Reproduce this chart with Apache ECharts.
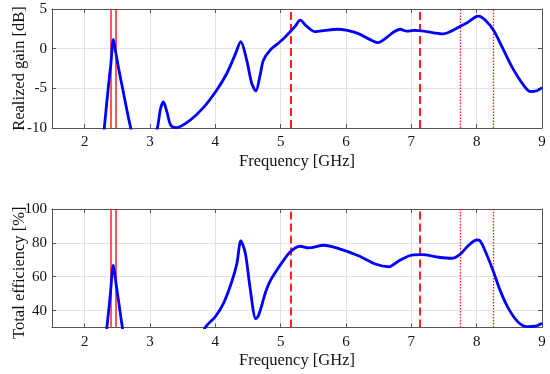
<!DOCTYPE html>
<html>
<head>
<meta charset="utf-8">
<script src="https://cdn.jsdelivr.net/npm/echarts@6/dist/echarts.min.js"></script>
<style>html,body{margin:0;padding:0;background:#fff;}#c{width:550px;height:374px;}</style>
</head>
<body>
<div id="c"></div>
<script>
// Realized gain (dB) vs frequency (GHz); values outside the axis range are clipped
var gainFreq = [2.20, 2.30, 2.36, 2.40, 2.44, 2.47, 2.52, 2.58, 2.65, 2.705, 2.80, 3.00, 3.113, 3.16, 3.205, 3.26, 3.318, 3.40, 3.61, 3.817, 4.02, 4.175, 4.30, 4.39, 4.48, 4.558, 4.62, 4.685, 4.736, 4.84, 4.99, 5.07, 5.145, 5.22, 5.30, 5.40, 5.53, 5.68, 5.86, 6.02, 6.19, 6.37, 6.49, 6.60, 6.73, 6.83, 6.93, 7.04, 7.16, 7.34, 7.49, 7.62, 7.75, 7.85, 7.98, 8.03, 8.13, 8.26, 8.39, 8.54, 8.70, 8.82, 8.92, 9.00];
var gainVals = [-18, -10, -5.0, -2.0, 1.17, -0.2, -2.5, -5.0, -7.9, -10, -13, -13, -10, -7.6, -6.72, -8.0, -9.66, -9.96, -9.03, -7.43, -5.24, -3.13, -0.82, 0.87, -1.45, -4.39, -5.33, -3.34, -1.45, -0.18, 0.87, 1.48, 2.13, 2.8, 3.6, 2.8, 2.13, 2.3, 2.45, 2.3, 1.9, 1.14, 0.76, 1.27, 2.1, 2.45, 2.2, 2.3, 2.24, 2.0, 1.86, 2.24, 2.83, 3.25, 4.0, 4.1, 3.6, 2.3, 0.2, -2.3, -4.4, -5.4, -5.3, -4.9];

// Total efficiency (%) vs frequency (GHz)
var effFreq = [2.25, 2.34, 2.39, 2.44, 2.48, 2.53, 2.577, 2.65, 3.00, 3.60, 3.843, 3.996, 4.123, 4.25, 4.33, 4.39, 4.46, 4.53, 4.62, 4.66, 4.71, 4.77, 4.84, 4.92, 4.99, 5.145, 5.30, 5.43, 5.66, 5.89, 6.19, 6.45, 6.65, 6.83, 7.01, 7.16, 7.42, 7.62, 7.75, 7.87, 8.00, 8.05, 8.15, 8.26, 8.36, 8.49, 8.64, 8.79, 8.92, 9.00];
var effVals = [0, 30, 48.4, 66.8, 56, 42.6, 30, 12, 5, 10, 29.9, 36.2, 44.1, 56.9, 67.8, 81.1, 73.7, 53.9, 35.2, 37, 43, 51, 57.5, 62.6, 66.7, 74.6, 78, 77, 78.6, 76.6, 72.4, 67.5, 65.9, 69.9, 72.8, 73, 71.5, 70.9, 73.4, 78.3, 81.7, 81.3, 73.4, 62.6, 51.8, 41, 33, 30.5, 31, 32.5];

// Band markers (GHz)
var solidMarks = [2.4, 2.48];
var dashedMarks = [5.15, 7.125];
var dottedMarks = [7.75, 8.25];

var xTickMin = 1.5, xTickMax = 9;

function pairs(xs, ys) { return xs.map(function (x, i) { return [x, ys[i]]; }); }

function marks() {
  var d = [];
  solidMarks.forEach(function (v) { d.push({ xAxis: v, lineStyle: { type: 'solid', width: 1.5, color: '#ff2020' } }); });
  dashedMarks.forEach(function (v) { d.push({ xAxis: v, lineStyle: { type: [8, 4], width: 2, color: '#ff2020' } }); });
  dottedMarks.forEach(function (v) { d.push({ xAxis: v, lineStyle: { type: [1.5, 1.5], width: 1.3, color: '#ff2020' } }); });
  return { silent: true, symbol: ['none', 'none'], label: { show: false }, animation: false, data: d };
}

var FONT = 'Liberation Serif';
var axisGray = '#555555';
var gridGray = '#e3e3e3';

function mainX(gi) {
  return {
    type: 'value', gridIndex: gi, min: xTickMin, max: xTickMax, splitNumber: 8,
    name: 'Frequency [GHz]', nameLocation: 'middle', nameGap: 25, nameMoveOverlap: false,
    nameTextStyle: { fontFamily: FONT, fontSize: 16.5, color: '#111' },
    axisLine: { show: true, onZero: false, lineStyle: { color: axisGray, width: 1 } },
    axisTick: { show: true, inside: true, length: 4, lineStyle: { color: axisGray } },
    axisLabel: { fontFamily: FONT, fontSize: 15, color: '#111', margin: 7, showMinLabel: false },
    splitLine: { show: true, lineStyle: { color: gridGray, width: 1 } }
  };
}
function topX(gi) {
  return {
    type: 'value', gridIndex: gi, position: 'top', min: xTickMin, max: xTickMax, splitNumber: 8,
    axisLine: { show: true, onZero: false, lineStyle: { color: axisGray, width: 1 } },
    axisTick: { show: true, inside: true, length: 4, lineStyle: { color: axisGray } },
    axisLabel: { show: false }, splitLine: { show: false }
  };
}
function mainY(gi, name, min, max, opts, namePad) {
  var o = {
    type: 'value', gridIndex: gi, min: min, max: max,
    name: name, nameLocation: 'middle', nameGap: 24, nameMoveOverlap: false,
    nameTextStyle: { fontFamily: FONT, fontSize: 16.5, color: '#111', padding: namePad },
    axisLine: { show: true, onZero: false, lineStyle: { color: axisGray, width: 1 } },
    axisTick: { show: true, inside: true, length: 4, lineStyle: { color: axisGray } },
    axisLabel: { fontFamily: FONT, fontSize: 15, color: '#111', margin: 5 },
    splitLine: { show: true, lineStyle: { color: gridGray, width: 1 } }
  };
  for (var k in opts) { if (k === 'axisLabel') { for (var j in opts[k]) o.axisLabel[j] = opts[k][j]; } else o[k] = opts[k]; }
  return o;
}
function rightY(gi, min, max, opts) {
  var o = {
    type: 'value', gridIndex: gi, position: 'right', min: min, max: max,
    axisLine: { show: true, onZero: false, lineStyle: { color: axisGray, width: 1 } },
    axisTick: { show: true, inside: true, length: 4, lineStyle: { color: axisGray } },
    axisLabel: { show: false }, splitLine: { show: false }
  };
  for (var k in opts) o[k] = opts[k];
  return o;
}

var chart = echarts.init(document.getElementById('c'), null, { renderer: 'canvas' });
chart.setOption({
  animation: false,
  backgroundColor: '#ffffff',
  grid: [
    { left: 52, right: 8, top: 9, height: 119, containLabel: false, outerBoundsMode: 'none' },
    { left: 52, right: 8, top: 209, height: 118.5, containLabel: false, outerBoundsMode: 'none' }
  ],
  xAxis: [mainX(0), topX(0), mainX(1), topX(1)],
  yAxis: [
    mainY(0, 'Realized gain [dB]', -10, 5, { interval: 5 }, [0, 0, 0, 0]),
    rightY(0, -10, 5, { interval: 5 }),
    mainY(1, 'Total efficiency [%]', 30, 100, { splitNumber: 4, axisLabel: { showMinLabel: false } }, [0, 9, 0, 0]),
    rightY(1, 30, 100, { splitNumber: 4 })
  ],
  series: [
    {
      type: 'line', xAxisIndex: 0, yAxisIndex: 0, data: pairs(gainFreq, gainVals),
      showSymbol: false, smooth: 0.3, clip: true,
      lineStyle: { color: '#0000ff', width: 2.8 }, z: 5,
      markLine: marks()
    },
    {
      type: 'line', xAxisIndex: 2, yAxisIndex: 2, data: pairs(effFreq, effVals),
      showSymbol: false, smooth: 0.3, clip: true,
      lineStyle: { color: '#0000ff', width: 2.8 }, z: 5,
      markLine: marks()
    }
  ]
});
</script>
</body>
</html>
